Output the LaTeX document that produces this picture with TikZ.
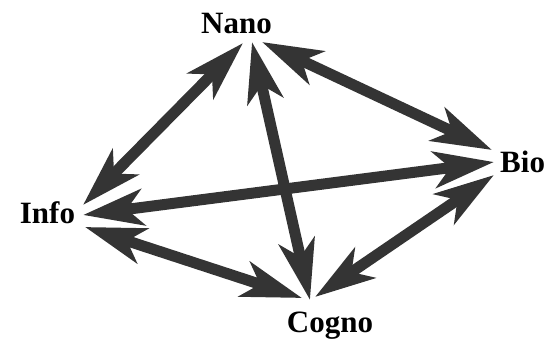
\documentclass[tikz,border=0pt]{standalone}
\usepackage{fontspec}
\setmainfont{Liberation Serif}
\usetikzlibrary{arrows.meta}
\definecolor{arrowgray}{RGB}{52,52,52}
\tikzset{
  lbl/.style={font=\fontsize{31}{31}\selectfont\bfseries, inner sep=0pt, text=black},
  dbl/.style={draw=arrowgray, line width=11pt,
    {Stealth[length=60pt,width=36pt,inset=16pt]}-{Stealth[length=60pt,width=36pt,inset=16pt]}}
}
\begin{document}
\begin{tikzpicture}[x=1pt,y=-1pt]
\useasboundingbox (0,0) rectangle (546,340);
\node[lbl, anchor=base] (nano) at (236.5,33) {Nano};
\node[lbl, anchor=base] (info) at (47.5,223) {Info};
\node[lbl, anchor=base west] (bio) at (500,172) {Bio};
\node[lbl, anchor=base] (cogno) at (330,332) {Cogno};
% arrow end points
\coordinate (nI) at (243,43);
\coordinate (iN) at (83,205);
\coordinate (iB) at (83,215);
\coordinate (bI) at (494,162);
\coordinate (nC) at (252,42);
\coordinate (cN) at (310,300);
\coordinate (nB) at (262,42);
\coordinate (bN) at (492,150);
\coordinate (iC) at (85,227);
\coordinate (cI) at (302,298);
\coordinate (cB) at (315,297);
\coordinate (bC) at (494,175);
\draw[dbl] (iB) -- (bI);
\draw[dbl] (nC) -- (cN);
\draw[dbl] (iN) -- (nI);
\draw[dbl] (nB) -- (bN);
\draw[dbl] (iC) -- (cI);
\draw[dbl] (cB) -- (bC);
\end{tikzpicture}
\end{document}
